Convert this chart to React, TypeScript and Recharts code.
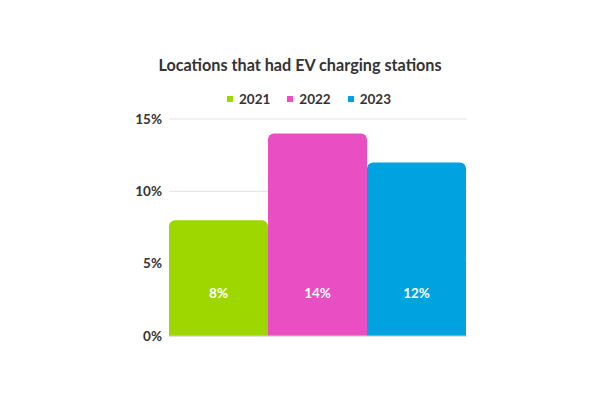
import React from "react";
import { BarChart, Bar, XAxis, YAxis, CartesianGrid, LabelList } from "recharts";

const categories = ["Locations"];
const seriesNames = ["2021", "2022", "2023"];
const values2021 = [8];
const values2022 = [14];
const values2023 = [12];
const yTicks = [0, 5, 10, 15];
const colors = ["#9ed700", "#e94ec2", "#00a2e0"];

const data = categories.map((c, i) => ({
  name: c,
  "2021": values2021[i],
  "2022": values2022[i],
  "2023": values2023[i],
}));

const font = "Lato, 'Open Sans', sans-serif";

export default function App() {
  return (
    <div style={{ position: "absolute", left: 0, top: 0, width: 600, height: 400, background: "#fff", fontFamily: font }}>
      <div style={{ position: "absolute", top: 55, left: 0, width: 600, textAlign: "center", fontWeight: 700, fontSize: 16.2, color: "#333" }}>
        Locations that had EV charging stations
      </div>
      <div style={{ position: "absolute", top: 91, left: 9, width: 600, display: "flex", justifyContent: "center", gap: 17, fontWeight: 700, fontSize: 13.5, color: "#333" }}>
        {seriesNames.map((s, i) => (
          <div key={s} style={{ display: "flex", alignItems: "center" }}>
            <span style={{ display: "inline-block", width: 6, height: 6, background: colors[i], marginRight: 6 }} />
            <span>{s}</span>
          </div>
        ))}
      </div>
      <BarChart
        width={600}
        height={400}
        data={data}
        margin={{ top: 119, right: 133, left: 119, bottom: 63 }}
        barCategoryGap={0}
        barGap={0}
      >
        <CartesianGrid vertical={false} stroke="#e3e3e3" />
        <XAxis dataKey="name" tick={false} tickLine={false} height={1} axisLine={{ stroke: "#cfcfcf" }} />
        <YAxis
          width={50}
          domain={[0, 15]}
          ticks={yTicks}
          tickFormatter={(v: number) => `${v}%`}
          axisLine={false}
          tickLine={false}
          tickSize={0}
          tickMargin={7}
          tick={{ fill: "#333", fontSize: 13.5, fontWeight: 700, fontFamily: font }}
        />
        {seriesNames.map((s, i) => (
          <Bar key={s} dataKey={s} fill={colors[i]} radius={[6, 6, 0, 0]} isAnimationActive={false}>
            <LabelList
              dataKey={s}
              position="insideBottom"
              offset={38}
              formatter={(v: number) => `${v}%`}
              style={{ fill: "#fff", fontSize: 13.5, fontWeight: 700, fontFamily: font }}
            />
          </Bar>
        ))}
      </BarChart>
    </div>
  );
}
